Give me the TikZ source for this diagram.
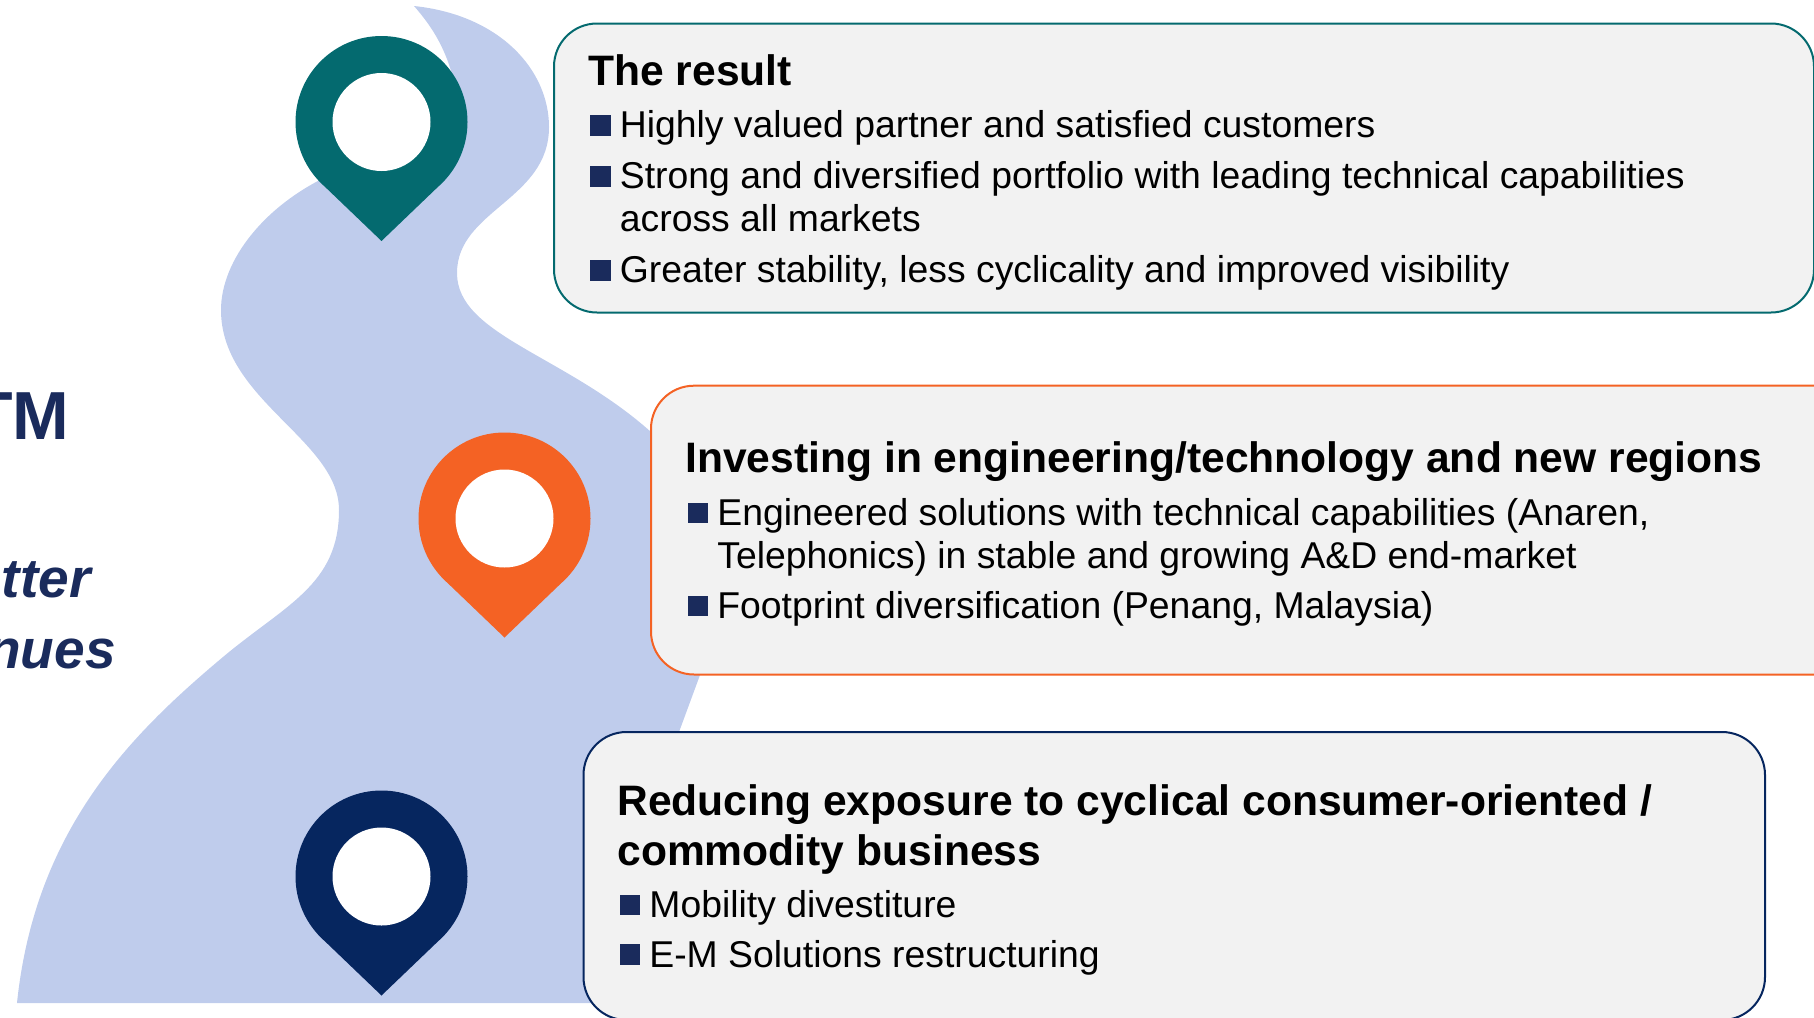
\documentclass[tikz,border=0pt]{standalone}
\usepackage{fontspec}
\setmainfont{Liberation Sans}
\definecolor{tealpin}{HTML}{046A6F}
\definecolor{orangepin}{HTML}{F46224}
\definecolor{navypin}{HTML}{06265F}
\definecolor{blob}{HTML}{BFCCEC}
\definecolor{boxfill}{HTML}{F2F2F2}
\definecolor{inkblue}{HTML}{1A2B5C}
\tikzset{
  panel/.style={fill=boxfill,line width=1pt,rounded corners=21.5pt},
  head/.style={anchor=base west,inner sep=0pt,font=\fontsize{21.3}{21.3}\selectfont\bfseries,text=black},
  item/.style={anchor=base west,inner sep=0pt,font=\fontsize{18.67}{18.67}\selectfont,text=black},
  square/.style={fill=inkblue,inner sep=0pt,minimum size=10.2pt,anchor=south west},
  bigt/.style={anchor=base east,inner sep=0pt,font=\fontsize{34}{34}\selectfont\bfseries,text=inkblue},
  bigi/.style={anchor=base east,inner sep=0pt,font=\fontsize{27.5}{27.5}\selectfont\bfseries\itshape,text=inkblue},
  pin/.pic={
    \fill[pic actions] (0,0) circle (86) (0,119) -- (-60,61.5) -- (60,61.5) -- cycle;
    \fill[white] (0,0) circle (49);
  }
}
\begin{document}
\begin{tikzpicture}[x=0.5pt,y=-0.5pt]
\useasboundingbox (0,0) rectangle (1814,1017);
\clip (0,0) rectangle (1814,1017);
% ribbon
\fill[blob] (414,6) .. controls (500,15) and (549,70) .. (549,127)
  .. controls (549,200) and (457,210) .. (457,273)
  .. controls (457,335) and (565,355) .. (651,432)
  -- (720,500) -- (700,675) -- (679,732) -- (680,1003) -- (17,1003)
  .. controls (35,830) and (130,735) .. (223,657)
  .. controls (285,605) and (339,585) .. (339,510)
  .. controls (339,440) and (221,400) .. (221,310)
  .. controls (221,260) and (265,205) .. (330,175)
  -- (458,100) .. controls (450,55) and (435,30) .. (414,6) -- cycle;
% panels
\draw[panel,draw=tealpin] (554,23.5) rectangle (1814,312.5);
\draw[panel,draw=orangepin] (651,385.7) rectangle (1900,674.5);
\draw[panel,draw=navypin] (583.5,732) rectangle (1765,1020);
% pins
\pic[tealpin] at (381.5,122) {pin};
\pic[orangepin] at (504.5,518.5) {pin};
\pic[navypin] at (381.5,876.5) {pin};
% left text
\node[bigt] (tm) at (70,439.7) {TM};
\node[bigi] (otter) at (91,597) {otter};
\node[bigi] (nues) at (116,668) {nues};
% top panel
\node[head] (h1) at (588,85.7) {The result};
\node[square] (b1a) at (590,136) {};
\node[item] (t1a) at (619.5,137) {Highly valued partner and satisfied customers};
\node[square] (b1b) at (590,187) {};
\node[item] (t1b) at (619.5,188) {Strong and diversified portfolio with leading technical capabilities};
\node[item] (t1c) at (619.5,231) {across all markets};
\node[square] (b1c) at (590,281) {};
\node[item] (t1d) at (619.5,282) {Greater stability, less cyclicality and improved visibility};
% middle panel
\node[head] (h2) at (685,472.7) {Investing in engineering/technology and new regions};
\node[square] (b2a) at (687.3,523.3) {};
\node[item] (t2a) at (717,525) {Engineered solutions with technical capabilities (Anaren,};
\node[item] (t2b) at (717,568) {Telephonics) in stable and growing A\&D end-market};
\node[square] (b2b) at (687.3,616.7) {};
\node[item] (t2c) at (717,618) {Footprint diversification (Penang, Malaysia)};
% bottom panel
\node[head] (h3a) at (617,815.7) {Reducing exposure to cyclical consumer-oriented /};
\node[head] (h3b) at (617,865) {commodity business};
\node[square] (b3a) at (619.3,915.7) {};
\node[item] (t3a) at (649,917.7) {Mobility divestiture};
\node[square] (b3b) at (619.3,965) {};
\node[item] (t3b) at (649,967) {E-M Solutions restructuring};
\end{tikzpicture}
\end{document}
